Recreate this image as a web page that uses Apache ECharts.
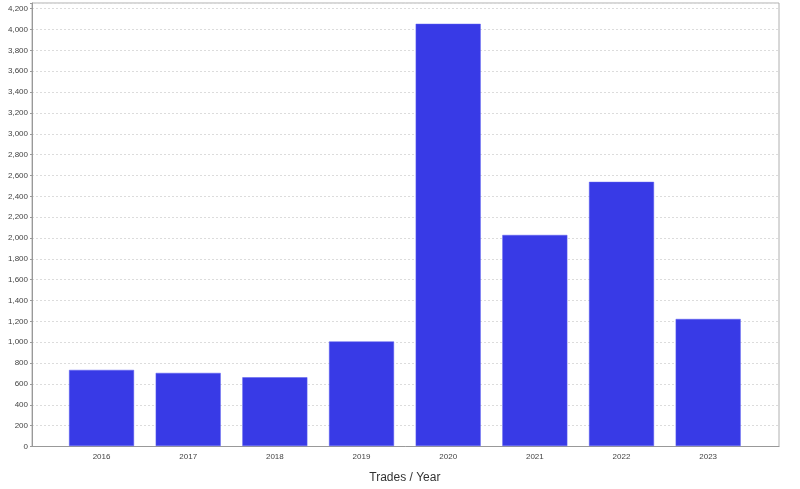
<!DOCTYPE html>
<html>
<head>
<meta charset="utf-8">
<script src="https://cdn.jsdelivr.net/npm/echarts@6/dist/echarts.min.js"></script>
<style>html,body{margin:0;padding:0;background:#fff;}#c{width:800px;height:489px;}</style>
</head>
<body>
<div id="c"></div>
<script>
const categories = ['2016','2017','2018','2019','2020','2021','2022','2023'];
const trades = [731, 702, 660, 1004, 4055, 2027, 2537, 1220];
const axisTitle = 'Trades / Year';

const chart = echarts.init(document.getElementById('c'), null, {renderer: 'canvas'});
const fmt = v => (v % 200 === 0 && v <= 4200) ? v.toLocaleString('en-US') : '';
const yMax = 4255;
chart.setOption({
  animation: false,
  backgroundColor: '#ffffff',
  grid: [
    {left: 32, right: 21, top: 3, bottom: 42.5, show: true, borderColor: '#b0b0b0', borderWidth: 1, backgroundColor: '#ffffff'},
    {left: 58.2, right: 48.5, top: 3, bottom: 42.5}
  ],
  xAxis: [
    {gridIndex: 0, type: 'value', min: 0, max: 1, show: true,
     axisLine: {show: true, onZero: false, lineStyle: {color: '#999', width: 1}},
     axisTick: {show: false}, axisLabel: {show: false}, splitLine: {show: false}},
    {gridIndex: 1, type: 'category', data: categories,
     axisLine: {show: false}, axisTick: {show: false},
     axisLabel: {fontSize: 8, color: '#444', margin: 7, fontFamily: 'Liberation Sans, Arial, sans-serif'},
     name: axisTitle, nameLocation: 'middle', nameGap: 26,
     nameTextStyle: {fontSize: 12, color: '#333', fontFamily: 'Liberation Sans, Arial, sans-serif'}}
  ],
  yAxis: [
    {gridIndex: 0, type: 'value', min: 0, max: yMax, interval: 200,
     axisLine: {show: true, lineStyle: {color: '#999', width: 1}},
     axisTick: {show: true, length: 2, lineStyle: {color: '#999'}},
     axisLabel: {fontSize: 8, color: '#444', margin: 4, formatter: fmt, fontFamily: 'Liberation Sans, Arial, sans-serif'},
     splitLine: {show: true, lineStyle: {color: '#dcdcdc', type: [2, 2], width: 1}}},
    {gridIndex: 1, type: 'value', min: 0, max: yMax, show: false, splitLine: {show: false}}
  ],
  series: [
    {type: 'bar', xAxisIndex: 1, yAxisIndex: 1, data: trades, barWidth: '75%',
     itemStyle: {color: '#383ae6', borderColor: '#5a5cf0', borderWidth: 0.5}}
  ]
});
</script>
</body>
</html>
